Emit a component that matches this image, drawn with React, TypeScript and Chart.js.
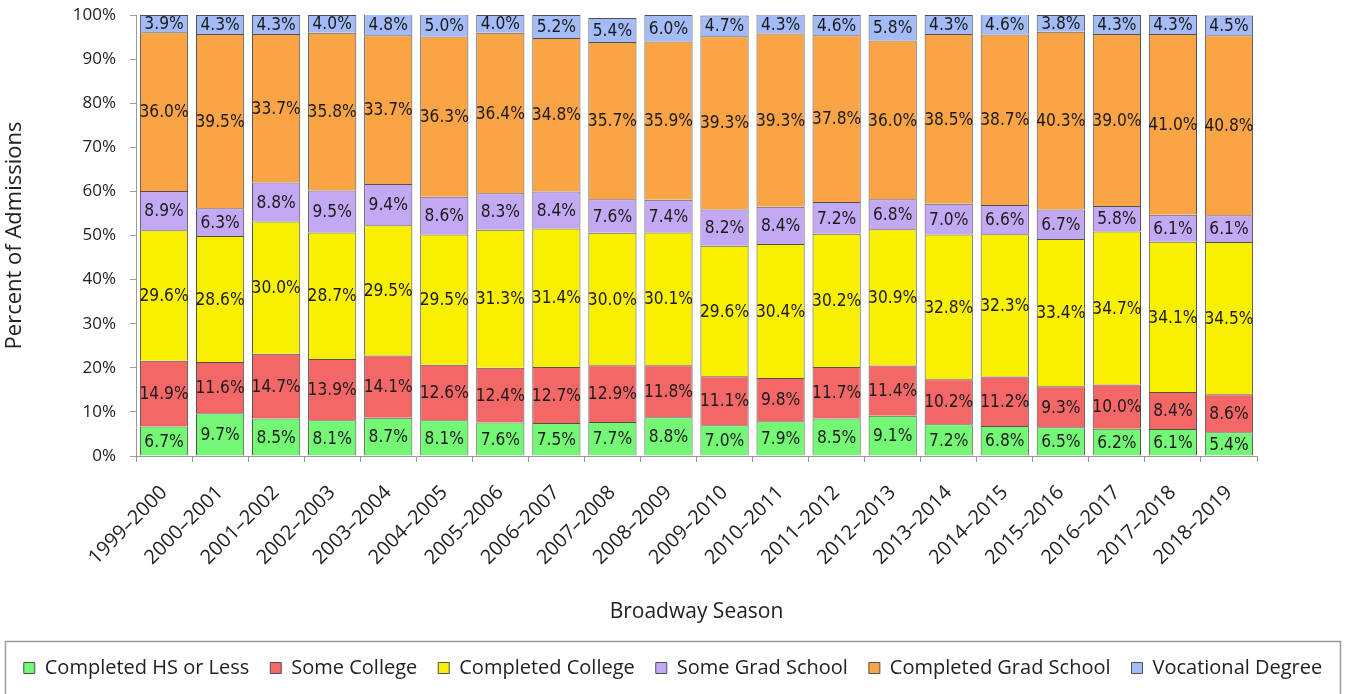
import React, { useEffect, useRef } from 'react';
import { Chart, registerables } from 'chart.js';

Chart.register(...registerables);

// Broadway seasons on the x axis
const seasons = [
  '1999–2000', '2000–2001', '2001–2002', '2002–2003', '2003–2004',
  '2004–2005', '2005–2006', '2006–2007', '2007–2008', '2008–2009',
  '2009–2010', '2010–2011', '2011–2012', '2012–2013', '2013–2014',
  '2014–2015', '2015–2016', '2016–2017', '2017–2018', '2018–2019',
];

// Share of admissions (%) by highest education level
const hsOrLess = [6.7, 9.7, 8.5, 8.1, 8.7, 8.1, 7.6, 7.5, 7.7, 8.8, 7.0, 7.9, 8.5, 9.1, 7.2, 6.8, 6.5, 6.2, 6.1, 5.4];
const someCollege = [14.9, 11.6, 14.7, 13.9, 14.1, 12.6, 12.4, 12.7, 12.9, 11.8, 11.1, 9.8, 11.7, 11.4, 10.2, 11.2, 9.3, 10.0, 8.4, 8.6];
const completedCollege = [29.6, 28.6, 30.0, 28.7, 29.5, 29.5, 31.3, 31.4, 30.0, 30.1, 29.6, 30.4, 30.2, 30.9, 32.8, 32.3, 33.4, 34.7, 34.1, 34.5];
const someGradSchool = [8.9, 6.3, 8.8, 9.5, 9.4, 8.6, 8.3, 8.4, 7.6, 7.4, 8.2, 8.4, 7.2, 6.8, 7.0, 6.6, 6.7, 5.8, 6.1, 6.1];
const completedGradSchool = [36.0, 39.5, 33.7, 35.8, 33.7, 36.3, 36.4, 34.8, 35.7, 35.9, 39.3, 39.3, 37.8, 36.0, 38.5, 38.7, 40.3, 39.0, 41.0, 40.8];
const vocationalDegree = [3.9, 4.3, 4.3, 4.0, 4.8, 5.0, 4.0, 5.2, 5.4, 6.0, 4.7, 4.3, 4.6, 5.8, 4.3, 4.6, 3.8, 4.3, 4.3, 4.5];

const seriesNames = [
  'Completed HS or Less',
  'Some College',
  'Completed College',
  'Some Grad School',
  'Completed Grad School',
  'Vocational Degree',
];
const seriesValues = [hsOrLess, someCollege, completedCollege, someGradSchool, completedGradSchool, vocationalDegree];
const seriesColors = ['#74F774', '#F46767', '#F8F000', '#C3A9F3', '#FBA446', '#A3BBF7'];

const axisFont = '"Open Sans"';

// Writes each segment's percentage in the middle of its block
const segmentLabels = {
  id: 'segmentLabels',
  afterDatasetsDraw(chart: any) {
    const ctx = chart.ctx as CanvasRenderingContext2D;
    ctx.save();
    ctx.font = '18px "DejaVu Sans"';
    ctx.fillStyle = '#1a1a1a';
    ctx.textAlign = 'center';
    ctx.textBaseline = 'middle';
    chart.data.datasets.forEach((ds: any, i: number) => {
      const meta = chart.getDatasetMeta(i);
      meta.data.forEach((bar: any, j: number) => {
        const { x, y, base } = bar.getProps(['x', 'y', 'base'], true);
        const v = ds.data[j] as number;
        ctx.save();
        ctx.translate(x, (y + base) / 2 + 1);
        ctx.scale(0.86, 1);
        ctx.fillText(v.toFixed(1) + '%', 0, 0);
        ctx.restore();
      });
    });
    ctx.restore();
  },
};

// Frame around the legend strip
const legendFrame = {
  id: 'legendFrame',
  afterDraw(chart: any) {
    const lg = chart.legend;
    if (!lg) return;
    const ctx = chart.ctx as CanvasRenderingContext2D;
    ctx.save();
    ctx.strokeStyle = '#9a9a9a';
    ctx.lineWidth = 1.5;
    ctx.strokeRect(5.5, lg.top + 4.5, chart.width - 11, chart.height);
    ctx.restore();
  },
};

export default function App() {
  const canvasRef = useRef<HTMLCanvasElement | null>(null);

  useEffect(() => {
    if (!canvasRef.current) return;
    const chart = new Chart(canvasRef.current, {
      type: 'bar',
      data: {
        labels: seasons,
        datasets: seriesNames.map((name, i) => ({
          label: name,
          data: seriesValues[i],
          backgroundColor: seriesColors[i],
          borderColor: '#505050',
          borderWidth: 1,
          barPercentage: 0.86,
          categoryPercentage: 1,
        })),
      },
      options: {
        animation: false,
        responsive: false,
        layout: { padding: { top: 15, right: 0, bottom: 6, left: 0 } },
        plugins: {
          legend: {
            position: 'bottom',
            labels: {
              boxWidth: 11,
              boxHeight: 11,
              padding: 21,
              color: '#222',
              font: { family: axisFont, size: 20 },
            },
          },
          tooltip: { enabled: false },
        },
        scales: {
          x: {
            stacked: true,
            grid: { drawOnChartArea: false, tickLength: 6, color: '#9a9a9a', offset: true },
            border: { color: '#9a9a9a', width: 1 },
            ticks: {
              maxRotation: 45,
              minRotation: 45,
              autoSkip: false,
              padding: 19,
              color: '#222',
              font: { family: axisFont, size: 20 },
            },
            title: {
              display: true,
              text: 'Broadway Season',
              color: '#222',
              font: { family: axisFont, size: 21 },
              padding: { top: 0, bottom: 12 },
            },
            afterFit: (s: any) => {
              s.height = 181;
              // keep the plot clear of the right edge
              s.paddingRight = 89;
            },
          },
          y: {
            stacked: true,
            min: 0,
            max: 100,
            grid: { drawOnChartArea: false, tickLength: 6, color: '#9a9a9a' },
            border: { color: '#9a9a9a', width: 1 },
            ticks: {
              stepSize: 10,
              padding: 14,
              color: '#222',
              font: { family: axisFont, size: 17 },
              callback: (v: any) => v + '%',
            },
            title: {
              display: true,
              text: 'Percent of Admissions',
              color: '#222',
              font: { family: axisFont, size: 22 },
              padding: { top: 2, bottom: 0 },
            },
            afterFit: (s: any) => {
              s.width = 136;
              s.paddingTop = 0;
              s.paddingBottom = 0;
            },
          },
        },
      },
      plugins: [segmentLabels, legendFrame],
    } as any);
    return () => chart.destroy();
  }, []);

  return (
    <div style={{ position: 'fixed', left: 0, top: 0, width: 1346, height: 694, background: '#fff' }}>
      <canvas ref={canvasRef} width={1346} height={694} style={{ display: 'block' }} />
    </div>
  );
}
